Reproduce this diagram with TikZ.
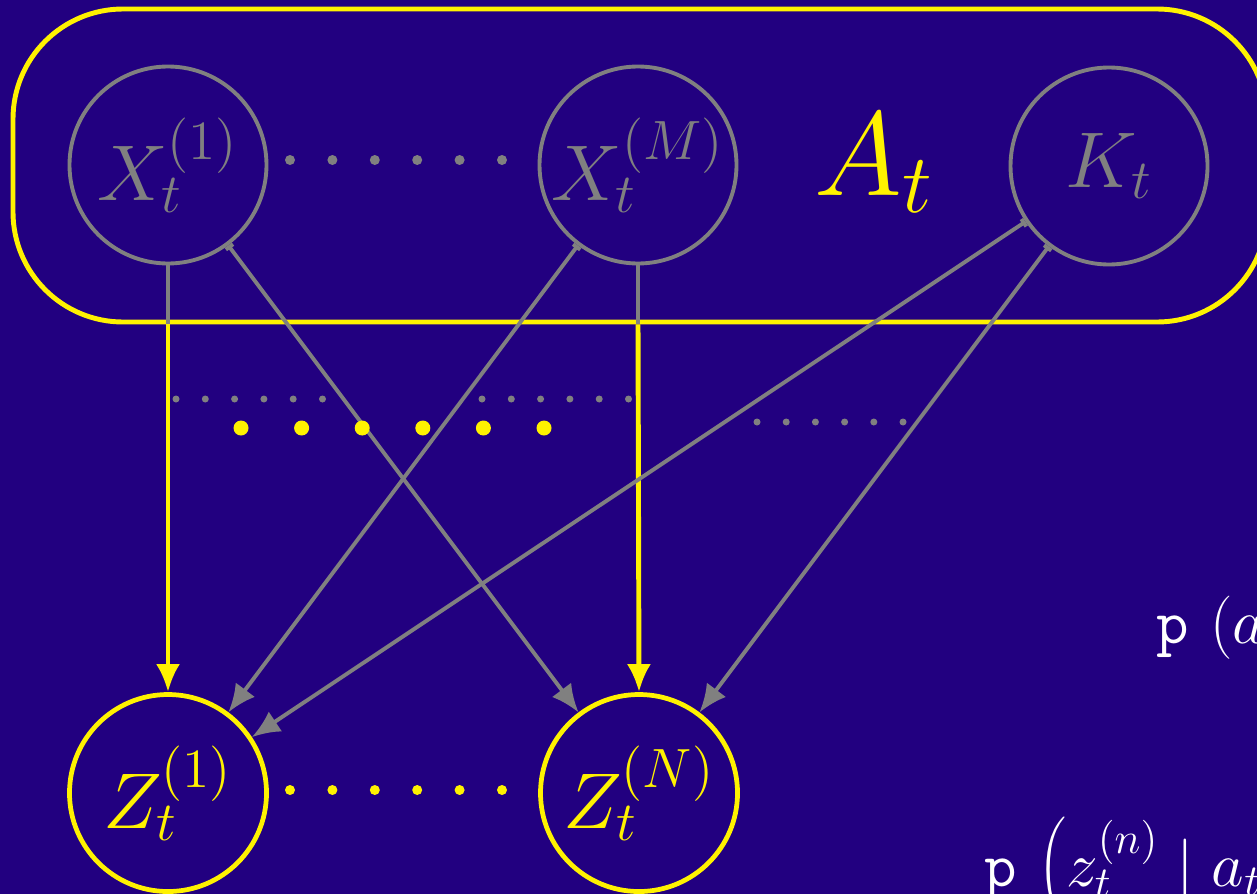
\documentclass[tikz,border=0pt]{standalone}
\usepackage{fix-cm}
\usetikzlibrary{arrows.meta, positioning}
\definecolor{slidebg}{RGB}{34,0,128}

\begin{document}
\begin{tikzpicture}[
    var/.style={circle, draw=gray, line width=1.1pt, minimum size=1.97cm,
                inner sep=0pt, text=gray, font=\fontsize{22.5}{27}\selectfont},
    obs/.style={var, draw=yellow, line width=1.35pt, text=yellow},
    link/.style={gray, line width=1.1pt,
                 {Bar[width=0.9mm]}-{Latex[length=2.8mm, width=2.4mm]}},
    obslink/.style={yellow, line width=1.4pt,
                    -{Latex[length=2.8mm, width=2.4mm]}},
    formula/.style={anchor=base west, inner sep=0pt, text=white,
                    font=\fontsize{18}{22}\selectfont}
  ]
  \fill[slidebg] (0,0) rectangle (12.57,8.94);
  \useasboundingbox (0,0) rectangle (12.57,8.94);

  % Plate for A_t
  \node[draw=yellow, line width=1.4pt, rounded corners=1.1cm,
        minimum width=12.54cm, minimum height=3.13cm] (box) at (6.40,7.285) {};
  \node[text=yellow, anchor=base, font=\fontsize{34}{40}\selectfont]
    (at) at (8.74,6.99) {$A_t$};

  % Hidden variables
  \node[var] (x1) at (1.68,7.29) {$X_t^{(1)}$};
  \node[var] (xm) at (6.38,7.29) {$X_t^{(M)}$};
  \node[var] (kt) at (11.09,7.28) {$K_t$};
  \foreach \i in {0,...,5}
    \fill[gray] (2.90+\i*0.424,7.34) circle (0.05);

  % Observations
  \node[obs] (z1) at (1.68,1.01) {$Z_t^{(1)}$};
  \node[obs] (zn) at (6.39,1.01) {$Z_t^{(N)}$};
  \foreach \i in {0,...,5}
    \fill[yellow] (2.90+\i*0.424,1.04) circle (0.05);

  % Edges
  \draw[gray, line width=1.1pt] (x1.south) -- (x1 |- box.south);
  \draw[obslink] (x1 |- box.south) -- (z1.north);
  \draw[gray, line width=1.1pt] (xm.south) -- (xm |- box.south);
  \draw[obslink] (xm |- box.south) -- (zn.north);
  \draw[link] (x1) -- (zn);
  \draw[link] (xm) -- (z1);
  \draw[link] (kt) -- (z1);
  \draw[link] (kt) -- (zn);

  % Dots between the edges
  \foreach \i in {0,...,5} {
    \fill[gray] (1.76+\i*0.293,4.95) circle (0.035);
    \fill[gray] (4.82+\i*0.293,4.95) circle (0.035);
    \fill[gray] (7.57+\i*0.292,4.72) circle (0.035);
    \fill[yellow] (2.41+\i*0.606,4.66) circle (0.075);
  }

  % Factors
  \node[formula] (pa) at (11.56,2.51) {$\mathtt{p}\,\left(a_t\right)$};
  \node[formula] (pz) at (9.84,0.08)
    {$\mathtt{p}\,\left(z_t^{(n)} \mid a_t\right)$};
\end{tikzpicture}
\end{document}
